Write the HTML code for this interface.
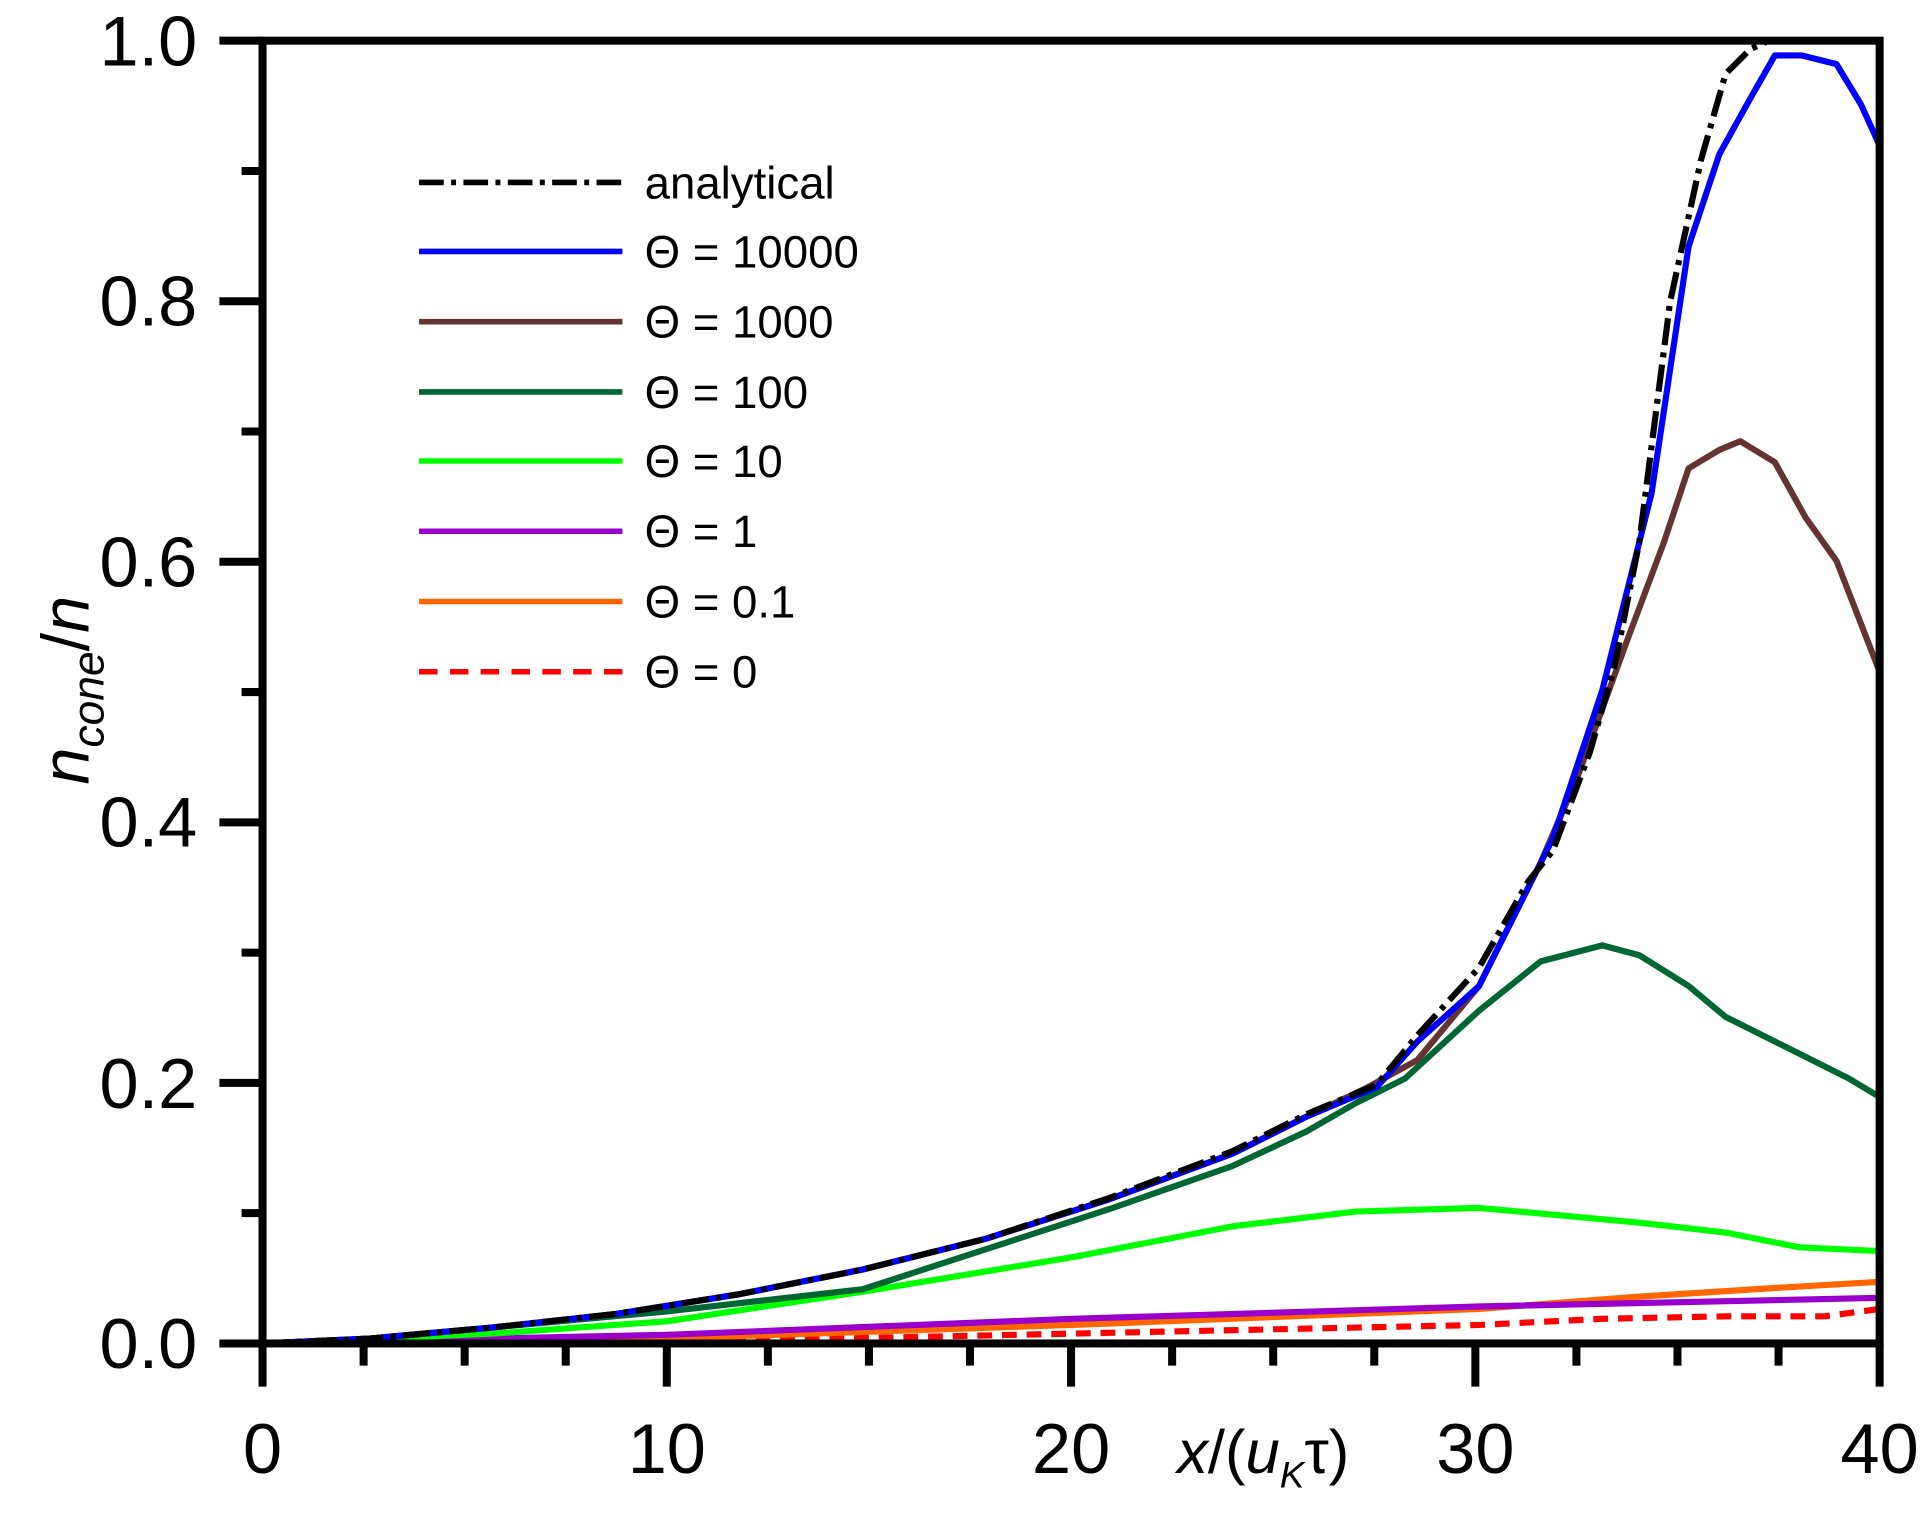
<!DOCTYPE html>
<html><head><style>html,body{margin:0;padding:0;background:#fff}svg{display:block}</style></head>
<body>
<svg width="1932" height="1517" viewBox="0 0 1567.5 1230.8" preserveAspectRatio="none" xmlns="http://www.w3.org/2000/svg" font-family="Liberation Sans, Arial, sans-serif">
<defs><clipPath id="c"><rect x="213" y="33" width="1312" height="1057"/></clipPath></defs>
<g clip-path="url(#c)" fill="none" stroke-width="5" stroke-linejoin="round">
<polyline stroke="#ff0000" stroke-dasharray="12,8" points="213,1090 541,1089 870,1082 1200,1075 1300,1070 1400,1068 1480,1068 1525,1062"/>
<polyline stroke="#ff6600" points="213,1090 541,1086 870,1075 1200,1062 1330,1052 1440,1045 1525,1040"/>
<polyline stroke="#9900cc" points="213,1090 541,1083 870,1070 1200,1060 1525,1053"/>
<polyline stroke="#00ff00" points="213,1090 400,1082 541,1072 700,1048 870,1020 1000,995 1100,983 1200,980 1330,992 1400,1000 1460,1012 1525,1015"/>
<polyline stroke="#006633" points="213,1090 300,1086 400,1077 541,1064 700,1046 900,981 1000,946 1060,918 1100,895 1140,875 1200,820 1250,780 1300,767 1330,775 1370,800 1400,825 1450,850 1500,875 1525,890"/>
<polyline stroke="#663333" points="213,1090 300,1086 400,1077 500,1066 600,1050 700,1030 800,1005 900,973 1000,936 1060,906 1110,882 1150,860 1200,800 1250,700 1280,630 1320,520 1350,440 1370,380 1395,365 1412,358 1440,375 1465,420 1490,455 1525,545"/>
<polyline stroke="#0000ff" points="213,1090 300,1086 400,1077 500,1066 600,1050 700,1030 800,1005 900,973 1000,936 1060,906 1117,882 1150,845 1200,800 1260,680 1300,560 1340,400 1370,200 1395,125 1420,80 1440,45 1462,45 1490,52 1510,85 1525,118"/>
<polyline stroke="#000" stroke-dasharray="22,6,4,6" points="213,1090 300,1086 400,1077 500,1066 600,1050 700,1030 800,1005 900,972 1000,934 1060,904 1117,880 1150,840 1200,785 1240,715 1260,690 1290,610 1310,540 1330,440 1355,245 1380,130 1400,60 1420,40 1435,33 1445,30"/>
</g>
<g stroke="#000" stroke-width="6.5" fill="none">
<rect x="213" y="33" width="1312" height="1057"/>
<path d="M178,1090H213M178,878.6H213M178,667.2H213M178,455.8H213M178,244.4H213M178,33H213 M196,984.3H213M196,772.9H213M196,561.5H213M196,350.1H213M196,138.7H213"/>
<path d="M213,1090V1125M541,1090V1125M869,1090V1125M1197,1090V1125M1525,1090V1125 M295,1090V1108M377,1090V1108M459,1090V1108M623,1090V1108M705,1090V1108M787,1090V1108M951,1090V1108M1033,1090V1108M1115,1090V1108M1279,1090V1108M1361,1090V1108M1443,1090V1108"/>
</g>
<g font-size="57" text-anchor="end" fill="#000">
<text x="160" y="1110">0.0</text><text x="160" y="899">0.2</text><text x="160" y="687">0.4</text><text x="160" y="476">0.6</text><text x="160" y="264">0.8</text><text x="160" y="53">1.0</text>
</g>
<g font-size="57" text-anchor="middle" fill="#000">
<text x="213" y="1195">0</text><text x="541" y="1195">10</text><text x="869" y="1195">20</text><text x="1197" y="1195">30</text><text x="1525" y="1195">40</text>
</g>
<text x="955" y="1195" font-size="50" fill="#000"><tspan font-style="italic">x</tspan>/(<tspan font-style="italic">u</tspan><tspan font-size="30" dy="12" font-style="italic">K</tspan><tspan dy="-12">τ)</tspan></text>
<text transform="translate(72,560) rotate(-90)" text-anchor="middle" font-size="54" fill="#000"><tspan font-style="italic">n</tspan><tspan font-size="36" dy="12" font-style="italic">cone</tspan><tspan dy="-12">/</tspan><tspan font-style="italic">n</tspan></text>
<g stroke-width="4.5" fill="none">
<line x1="340" y1="148" x2="505" y2="148" stroke="#000" stroke-dasharray="20,6,4,6"/>
<line x1="340" y1="204" x2="505" y2="204" stroke="#0000ff"/>
<line x1="340" y1="261" x2="505" y2="261" stroke="#663333"/>
<line x1="340" y1="318" x2="505" y2="318" stroke="#006633"/>
<line x1="340" y1="374" x2="505" y2="374" stroke="#00ff00"/>
<line x1="340" y1="431" x2="505" y2="431" stroke="#9900cc"/>
<line x1="340" y1="488" x2="505" y2="488" stroke="#ff6600"/>
<line x1="340" y1="545" x2="505" y2="545" stroke="#ff0000" stroke-dasharray="15,10"/>
</g>
<g font-size="37" fill="#000">
<text x="523" y="161">analytical</text>
<text x="523" y="217">Θ = 10000</text>
<text x="523" y="274">Θ = 1000</text>
<text x="523" y="331">Θ = 100</text>
<text x="523" y="387">Θ = 10</text>
<text x="523" y="444">Θ = 1</text>
<text x="523" y="501">Θ = 0.1</text>
<text x="523" y="558">Θ = 0</text>
</g>
</svg>
</body></html>
